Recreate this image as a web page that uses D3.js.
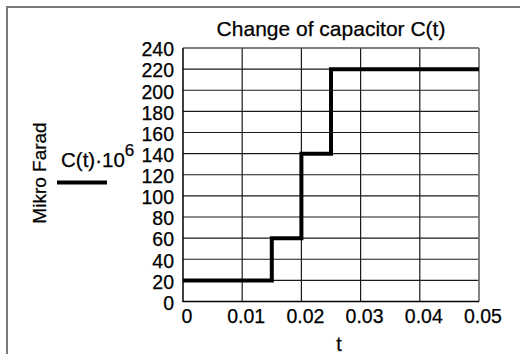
<!DOCTYPE html>
<html><head><meta charset="utf-8">
<script src="https://cdn.jsdelivr.net/npm/d3@7"></script>
<style>body{margin:0;background:#fff}svg{display:block}text{font-family:"Liberation Sans",Arial,sans-serif;fill:#000;stroke:#000;stroke-width:0.25px}</style>
</head><body><svg id="c" width="520" height="354"></svg>
<script>
const times = [0, 0.015, 0.02, 0.025, 0.05];
const values = [20, 60, 140, 220, 220];
const xTicks = [0, 0.01, 0.02, 0.03, 0.04, 0.05];
const xTickLabels = ["0", "0.01", "0.02", "0.03", "0.04", "0.05"];
const yTicks = [0,20,40,60,80,100,120,140,160,180,200,220,240];
const title = "Change of capacitor C(t)";
const xLabel = "t";
const yLabel = "Mikro Farad";

const svg = d3.select("#c");
const L = 183, R = 479, T = 48, B = 301.5;
const x = d3.scaleLinear().domain([0, 0.05]).range([L, R]);
const y = d3.scaleLinear().domain([0, 240]).range([B, T]);

// outer frame (left & top)
svg.append("path").attr("d", `M7,354 V7 H520`).attr("fill","none").attr("stroke","#7a7a7a").attr("stroke-width",2);

// grid
const g = svg.append("g");
g.selectAll(".vx").data(xTicks.slice(1,-1)).join("line")
  .attr("x1", d=>x(d)).attr("x2", d=>x(d)).attr("y1", T).attr("y2", B)
  .attr("stroke","#1a1a1a").attr("stroke-width",1.2);
g.selectAll(".hy").data(yTicks.slice(1,-1)).join("line")
  .attr("x1", L).attr("x2", R).attr("y1", d=>y(d)).attr("y2", d=>y(d))
  .attr("stroke","#1a1a1a").attr("stroke-width",1.2);
// plot border
g.append("path").attr("d",`M${L},${T} H${R}`).attr("stroke","#555").attr("stroke-width",1.5);
g.append("path").attr("d",`M${R},${T} V${B}`).attr("stroke","#777").attr("stroke-width",1.8);
g.append("path").attr("d",`M${L},${T} V${B} H${R}`).attr("fill","none").attr("stroke","#000").attr("stroke-width",1.5);

// y tick labels
svg.selectAll(".yl").data(yTicks).join("text")
  .attr("x", 174).attr("y", d=>y(d)+1.5).attr("dy","0.35em")
  .attr("text-anchor","end").attr("font-size",19.5).text(d=>d);
// x tick labels
svg.selectAll(".xl").data(xTicks).join("text")
  .attr("x", d=>x(d)+4).attr("y", 323)
  .attr("text-anchor","middle").attr("font-size",19.5).text((d,i)=>xTickLabels[i]);

// title & labels
svg.append("text").attr("x",331).attr("y",36).attr("text-anchor","middle").attr("font-size",21).text(title);
svg.append("text").attr("x",339).attr("y",351).attr("text-anchor","middle").attr("font-size",19.5).text(xLabel);
svg.append("text").attr("transform","translate(46,173) rotate(-90)").attr("text-anchor","middle").attr("font-size",19).text(yLabel);

// legend
const lg = svg.append("text").attr("x",61).attr("y",166.5).attr("font-size",20.5);
lg.append("tspan").text("C(t)\u00B710");
lg.append("tspan").attr("dy",-11).attr("font-size",17).text("6");
svg.append("line").attr("x1",57).attr("x2",107).attr("y1",182.5).attr("y2",182.5).attr("stroke","#000").attr("stroke-width",4);

// data
const line = d3.line().x(d=>x(d[0])).y(d=>y(d[1])).curve(d3.curveStepAfter);
svg.append("path").datum(times.map((t,i)=>[t, values[i]]))
  .attr("d", line).attr("fill","none").attr("stroke","#000").attr("stroke-width",4);
</script></body></html>
